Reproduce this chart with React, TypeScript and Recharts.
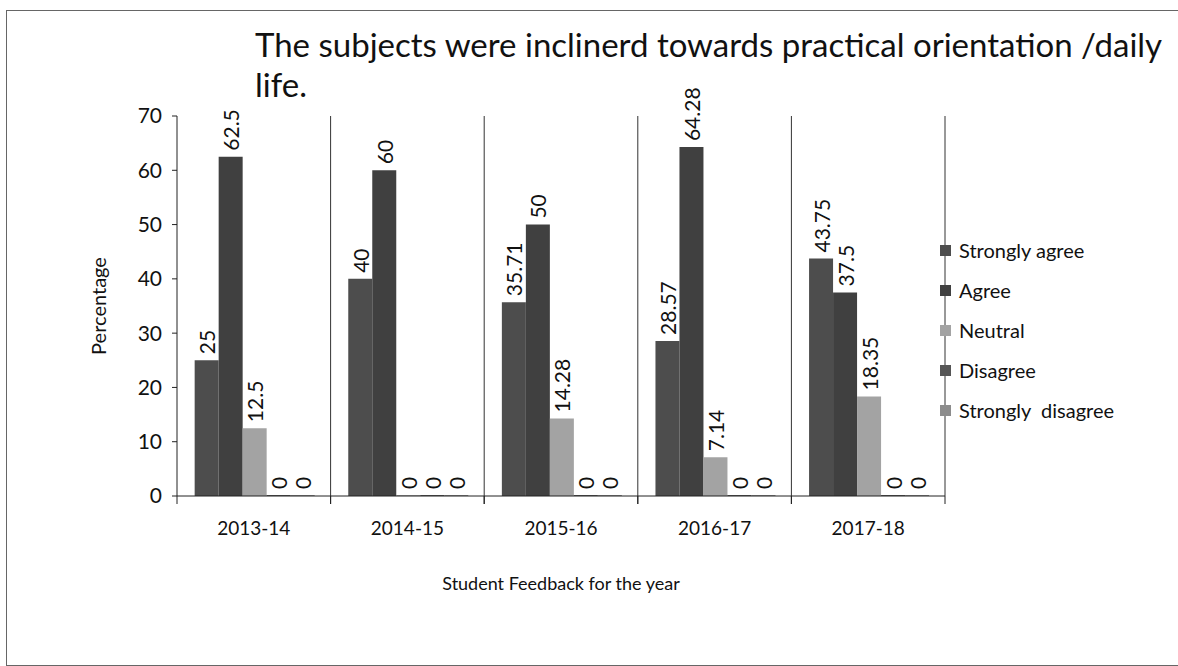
import { BarChart, Bar, XAxis, YAxis, CartesianGrid, LabelList } from "recharts";

const years = ["2013-14", "2014-15", "2015-16", "2016-17", "2017-18"];
const stronglyAgree = [25, 40, 35.71, 28.57, 43.75];
const agree = [62.5, 60, 50, 64.28, 37.5];
const neutral = [12.5, 0, 14.28, 7.14, 18.35];
const disagree = [0, 0, 0, 0, 0];
const stronglyDisagree = [0, 0, 0, 0, 0];
const yTicks = [0, 10, 20, 30, 40, 50, 60, 70];

const series = [
  { key: "sa", name: "Strongly agree", fill: "#4d4d4d" },
  { key: "a", name: "Agree", fill: "#404040" },
  { key: "n", name: "Neutral", fill: "#a3a3a3" },
  { key: "d", name: "Disagree", fill: "#555555" },
  { key: "sd", name: "Strongly  disagree", fill: "#8c8c8c" },
];

const data = years.map((y, i) => ({
  year: y,
  sa: stronglyAgree[i],
  a: agree[i],
  n: neutral[i],
  d: disagree[i],
  sd: stronglyDisagree[i],
}));

const font = "Lato, 'Open Sans', sans-serif";
const W = 1178;
const H = 666;
const margin = { top: 116, right: 233, bottom: 140, left: 117 };
const yAxisW = 60;
const xAxisH = 30;
const plotW = W - margin.left - margin.right - yAxisW;
const step = plotW / years.length;

// rotated value label sitting just above the bar
const BarLabel = (props: any) => {
  const vb = props.viewBox || {};
  const x = props.x ?? vb.x;
  const y = props.y ?? vb.y;
  const width = props.width ?? vb.width;
  const { value } = props;
  const cx = x + width / 2;
  const ty = y - 6;
  return (
    <text
      x={cx}
      y={ty}
      transform={`rotate(-90 ${cx} ${ty})`}
      textAnchor="start"
      dominantBaseline="central"
      fontSize={21}
      fontFamily={font}
      fill="#111"
    >
      {value}
    </text>
  );
};

// category label plus tick marks on the group boundaries
const XTick = (props: any) => {
  const { x, y, payload } = props;
  return (
    <g>
      <line x1={x - step / 2} x2={x - step / 2} y1={y} y2={y + 8} stroke="#222" />
      <line x1={x + step / 2} x2={x + step / 2} y1={y} y2={y + 8} stroke="#222" />
      <text x={x} y={y + 31} textAnchor="middle" dominantBaseline="central" fontSize={19} fontFamily={font} fill="#111">
        {payload.value}
      </text>
    </g>
  );
};

export default function App() {
  return (
    <div style={{ position: "absolute", left: 0, top: 0, width: W, height: H, background: "#fff", overflow: "hidden" }}>
      <div
        style={{
          position: "absolute",
          left: 6,
          top: 10,
          width: W,
          height: 654,
          borderLeft: "1px solid #666",
          borderTop: "1px solid #666",
          borderBottom: "1px solid #666",
        }}
      />
      <div style={{ position: "absolute", left: 255, top: 24, fontFamily: font, fontSize: 33, lineHeight: "40px", color: "#111", whiteSpace: "nowrap" }}>
        <div>The subjects were inclinerd towards practical orientation /daily</div>
        <div>life.</div>
      </div>
      <div
        style={{
          position: "absolute",
          left: 98,
          top: 306,
          transform: "translate(-50%, -50%) rotate(-90deg)",
          fontFamily: font,
          fontSize: 20,
          color: "#111",
          whiteSpace: "nowrap",
        }}
      >
        Percentage
      </div>
      <div
        style={{
          position: "absolute",
          left: 561,
          top: 583,
          transform: "translate(-50%, -50%)",
          fontFamily: font,
          fontSize: 18,
          color: "#111",
          whiteSpace: "nowrap",
        }}
      >
        Student Feedback for the year
      </div>
      <div style={{ position: "absolute", left: 0, top: 0 }}>
        <BarChart width={W} height={H} data={data} margin={margin} barCategoryGap="11.5%" barGap={0}>
          <CartesianGrid
            horizontal={false}
            stroke="#333"
            verticalCoordinatesGenerator={({ offset }: any) =>
              years.map((_, i) => offset.left + (i + 1) * (offset.width / years.length))
            }
          />
          <XAxis
            dataKey="year"
            height={xAxisH}
            tickLine={false}
            tickSize={0}
            tickMargin={0}
            axisLine={{ stroke: "#222" }}
            tick={<XTick />}
            interval={0}
          />
          <YAxis
            width={yAxisW}
            domain={[0, 70]}
            ticks={yTicks}
            interval={0}
            tickSize={5}
            tickMargin={10}
            axisLine={{ stroke: "#222" }}
            tickLine={{ stroke: "#222" }}
            tick={{ fontSize: 21, fontFamily: font, fill: "#111" }}
          />
          {series.map((s) => (
            <Bar key={s.key} dataKey={s.key} name={s.name} fill={s.fill} minPointSize={1} isAnimationActive={false}>
              <LabelList dataKey={s.key} content={<BarLabel />} />
            </Bar>
          ))}
        </BarChart>
      </div>
      <div style={{ position: "absolute", left: 940, top: 230, fontFamily: font, fontSize: 20, color: "#111" }}>
        {series.map((s) => (
          <div key={s.key} style={{ display: "flex", alignItems: "center", height: 40, whiteSpace: "pre" }}>
            <span style={{ width: 11, height: 11, background: s.fill, marginRight: 8, display: "inline-block" }} />
            {s.name}
          </div>
        ))}
      </div>
    </div>
  );
}
